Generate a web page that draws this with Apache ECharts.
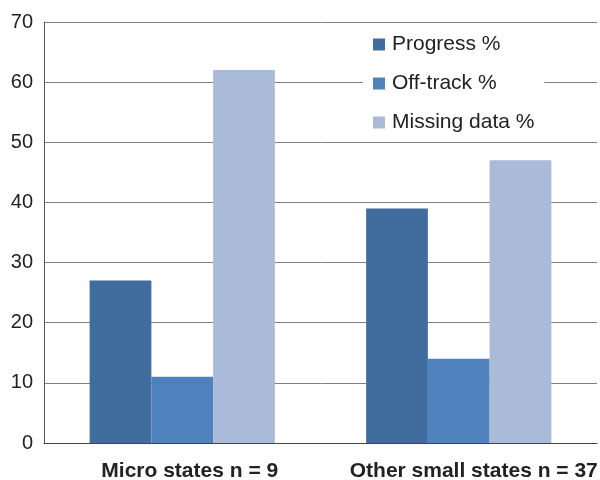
<!DOCTYPE html>
<html>
<head>
<meta charset="utf-8">
<script src="https://cdn.jsdelivr.net/npm/echarts@6/dist/echarts.min.js"></script>
<style>html,body{margin:0;padding:0;background:#fff;}#c{width:600px;height:480px;}</style>
</head>
<body>
<div id="c"></div>
<script>
var categories = ['Micro states n = 9', 'Other small states n = 37'];
var seriesNames = ['Progress %', 'Off-track %', 'Missing data %'];
var progress = [27, 39];
var offTrack = [11, 14];
var missing = [62, 47];
var yTicks = [0, 10, 20, 30, 40, 50, 60, 70];

var colors = ['#416c9e', '#4f81bd', '#aabad9'];
var chart = echarts.init(document.getElementById('c'), null, {renderer: 'canvas'});
var font = 'Liberation Sans, Arial, sans-serif';
var option = {
  animation: false,
  backgroundColor: '#fff',
  color: colors,
  grid: {left: 44, right: 3, top: 22, bottom: 37, containLabel: false, outerBoundsMode: 'none'},
  legend: {
    orient: 'vertical',
    left: 363, top: 28,
    padding: [6, 10, 6, 10],
    backgroundColor: '#fff',
    itemWidth: 12, itemHeight: 12,
    itemGap: 18,
    icon: 'rect',
    textStyle: {fontFamily: font, fontSize: 21, color: '#222', padding: [0, 0, 0, 2]},
    data: seriesNames
  },
  xAxis: {
    type: 'category',
    data: categories,
    axisLine: {lineStyle: {color: '#444', width: 1}},
    axisTick: {show: false},
    axisLabel: {
      margin: 18,
      interval: 0,
      formatter: function (v, i) { return '{' + (i === 0 ? 'a' : 'b') + '|' + v + '}'; },
      rich: {
        a: {fontFamily: font, fontSize: 21, fontWeight: 'bold', color: '#222', padding: [0, 0, 0, 15]},
        b: {fontFamily: font, fontSize: 21, fontWeight: 'bold', color: '#222', padding: [0, 0, 0, 30]}
      }
    }
  },
  yAxis: {
    type: 'value',
    min: yTicks[0], max: yTicks[yTicks.length - 1], interval: 10,
    axisLine: {show: true, lineStyle: {color: '#555', width: 1}},
    axisTick: {show: false},
    axisLabel: {fontFamily: font, fontSize: 20, color: '#222', margin: 11},
    splitLine: {show: true, lineStyle: {color: '#808080', width: 1}}
  },
  series: [
    {name: seriesNames[0], type: 'bar', data: progress, barGap: '0%', barCategoryGap: '33%'},
    {name: seriesNames[1], type: 'bar', data: offTrack, barGap: '0%', barCategoryGap: '33%'},
    {name: seriesNames[2], type: 'bar', data: missing, barGap: '0%', barCategoryGap: '33%'}
  ]
};
chart.setOption(option);
</script>
</body>
</html>
